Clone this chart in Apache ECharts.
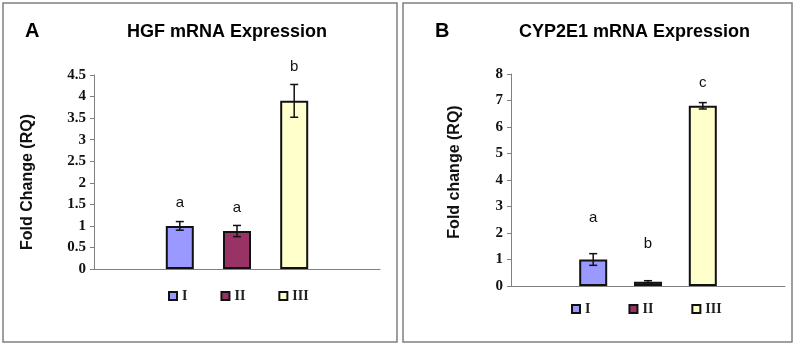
<!DOCTYPE html>
<html>
<head>
<meta charset="utf-8">
<script src="https://cdn.jsdelivr.net/npm/echarts@6/dist/echarts.min.js"></script>
<style>
  html, body { margin: 0; padding: 0; background: #fff; }
  #chart { width: 795px; height: 345px; }
</style>
</head>
<body>
<div id="chart"></div>
<script>
// groups
var groups = ['I', 'II', 'III'];
var groupColors = ['#9999FF', '#993366', '#FFFFCC'];

// panel A - HGF
var hgfMean = [1.0, 0.88, 3.9];
var hgfErr = [0.1, 0.13, 0.38];
var hgfLetters = ['a', 'a', 'b'];
var hgfLetterY = [1.53, 1.42, 4.68];

// panel B - CYP2E1
var cypMean = [1.0, 0.16, 6.8];
var cypErr = [0.22, 0.04, 0.12];
var cypLetters = ['a', 'b', 'c'];
var cypLetterY = [2.57, 1.58, 7.66];

// empty slot on each side of the bars
var axisCats = [''].concat(groups).concat(['']);

var serif = 'Liberation Serif';
var sans = 'Liberation Sans';

function barSeries(mean, gridIdx) {
    return groups.map(function (g, i) {
        return {
            name: g,
            type: 'bar',
            xAxisIndex: gridIdx,
            yAxisIndex: gridIdx,
            barWidth: 28,
            barGap: '-100%',
            itemStyle: { color: groupColors[i], borderColor: '#111', borderWidth: 2 },
            data: axisCats.map(function (c) { return c === g ? mean[i] : '-'; })
        };
    });
}

function errSeries(mean, err, letters, letterY, gridIdx) {
    var d = groups.map(function (g, i) {
        return [g, mean[i] - err[i], mean[i] + err[i], letterY[i]];
    });
    return {
        type: 'custom',
        xAxisIndex: gridIdx,
        yAxisIndex: gridIdx,
        z: 5,
        data: d,
        renderItem: function (params, api) {
            var x = api.value(0);
            var lo = api.coord([x, api.value(1)]);
            var hi = api.coord([x, api.value(2)]);
            var lp = api.coord([x, api.value(3)]);
            var cap = 4;
            var st = { stroke: '#111', lineWidth: 1.5 };
            return {
                type: 'group',
                children: [
                    { type: 'line', shape: { x1: hi[0], y1: hi[1], x2: lo[0], y2: lo[1] }, style: st },
                    { type: 'line', shape: { x1: hi[0] - cap, y1: hi[1], x2: hi[0] + cap, y2: hi[1] }, style: st },
                    { type: 'line', shape: { x1: lo[0] - cap, y1: lo[1], x2: lo[0] + cap, y2: lo[1] }, style: st },
                    {
                        type: 'text',
                        style: {
                            x: lp[0], y: lp[1], text: letters[params.dataIndex],
                            textAlign: 'center', textVerticalAlign: 'middle',
                            font: '15px ' + sans, fill: '#111'
                        }
                    }
                ]
            };
        }
    };
}

function yAxis(gridIdx, max, interval, name, gap, pad) {
    return {
        gridIndex: gridIdx,
        type: 'value',
        min: 0,
        max: max,
        interval: interval,
        name: name,
        nameLocation: 'middle',
        nameRotate: 90,
        nameGap: gap,
        nameTextStyle: { fontFamily: sans, fontWeight: 'bold', fontSize: 16, color: '#111', padding: pad },
        axisLine: { show: true, lineStyle: { color: '#808080', width: 1 } },
        axisTick: { show: true, length: 4, lineStyle: { color: '#808080' } },
        splitLine: { show: false },
        axisLabel: { fontFamily: serif, fontWeight: 'bold', fontSize: 15, color: '#111', margin: 8 }
    };
}

function xAxis(gridIdx) {
    return {
        gridIndex: gridIdx,
        type: 'category',
        data: axisCats,
        axisLine: { lineStyle: { color: '#808080', width: 1 } },
        axisTick: { show: false },
        axisLabel: { show: false }
    };
}

var legendText = { fontFamily: serif, fontWeight: 'bold', fontSize: 14, color: '#222' };

var mcharts = echarts.init(document.getElementById('chart'));

var option = {
    animation: false,
    backgroundColor: '#fff',
    graphic: [
        { type: 'rect', shape: { x: 3, y: 3, width: 394, height: 339 }, style: { fill: 'none', stroke: '#808080', lineWidth: 1.5 } },
        { type: 'rect', shape: { x: 403, y: 3, width: 389, height: 339 }, style: { fill: 'none', stroke: '#808080', lineWidth: 1.5 } }
    ],
    title: [
        { text: 'A', left: 20, top: 16, textStyle: { fontFamily: sans, fontWeight: 'bold', fontSize: 20, color: '#000' } },
        { text: 'HGF mRNA Expression', left: 122, top: 18, textStyle: { fontFamily: sans, fontWeight: 'bold', fontSize: 18, color: '#000' } },
        { text: 'B', left: 430, top: 16, textStyle: { fontFamily: sans, fontWeight: 'bold', fontSize: 20, color: '#000' } },
        { text: 'CYP2E1 mRNA Expression', left: 514, top: 18, textStyle: { fontFamily: sans, fontWeight: 'bold', fontSize: 18, color: '#000' } }
    ],
    legend: [
        {
            data: groups, left: 163, top: 284, icon: 'rect', itemWidth: 8, itemHeight: 8, itemGap: 33,
            textStyle: legendText, selectedMode: false
        },
        {
            data: groups, left: 566, top: 297, icon: 'rect', itemWidth: 8, itemHeight: 8, itemGap: 38,
            textStyle: legendText, selectedMode: false
        }
    ],
    grid: [
        { left: 94, top: 75, width: 286, height: 194 },
        { left: 511, top: 74, width: 274, height: 212 }
    ],
    xAxis: [xAxis(0), xAxis(1)],
    yAxis: [
        yAxis(0, 4.5, 0.5, 'Fold Change (RQ)', 58, [0, 20, 0, 0]),
        yAxis(1, 8, 1, 'Fold change (RQ)', 48, [0, 0, 0, 16])
    ],
    series: barSeries(hgfMean, 0)
        .concat([errSeries(hgfMean, hgfErr, hgfLetters, hgfLetterY, 0)])
        .concat(barSeries(cypMean, 1))
        .concat([errSeries(cypMean, cypErr, cypLetters, cypLetterY, 1)])
};

mcharts.setOption(option, true);
</script>
</body>
</html>
